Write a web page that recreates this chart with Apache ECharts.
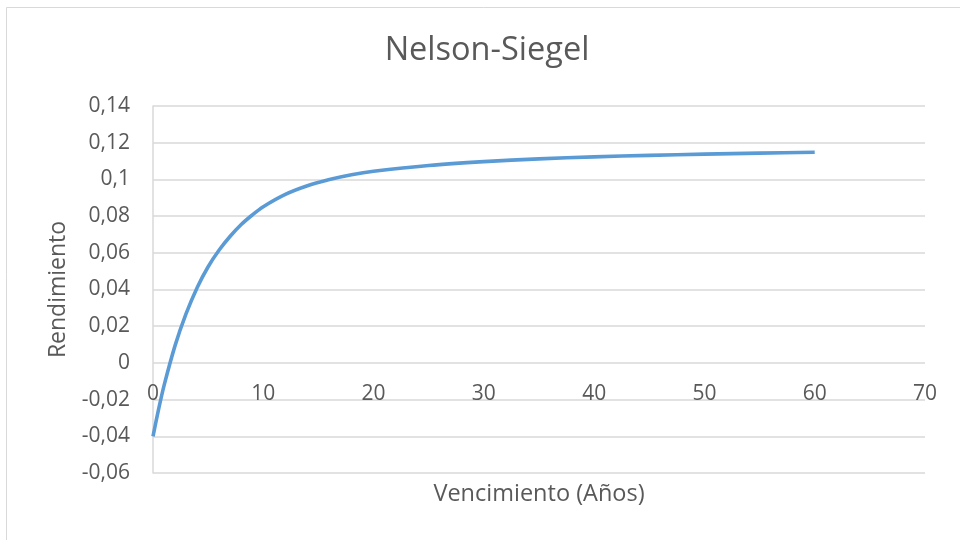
<!DOCTYPE html>
<html>
<head>
<meta charset="utf-8">
<script src="https://cdn.jsdelivr.net/npm/echarts@6/dist/echarts.min.js"></script>
<style>html,body{margin:0;padding:0;background:#fff}#c{width:960px;height:540px}</style>
</head>
<body>
<div id="c"></div>
<script>
const titleText = 'Nelson-Siegel';
const xName = 'Vencimiento (Años)';
const yName = 'Rendimiento';
const maturities = [0, 0.5, 1, 2, 3, 4, 5, 6, 7, 8, 9, 10, 12, 14, 16, 18, 20, 25, 30, 35, 40, 45, 50, 55, 60];
const yields = [-0.040, -0.0255, -0.0124, 0.0094, 0.0268, 0.0410, 0.0524, 0.0615, 0.0690, 0.0754, 0.0806, 0.0851, 0.0918, 0.0965, 0.0999, 0.1025, 0.1044, 0.1076, 0.1097, 0.1112, 0.1123, 0.1131, 0.1138, 0.1143, 0.1148];
const xMin = 0, xMax = 70, xStep = 10;
const yMin = -0.06, yMax = 0.14, yStep = 0.02;

const FONT = 'Open Sans';
const TXT = '#595959';
const GRID = '#d9d9d9';
const fmt = v => String(+Number(v).toFixed(2)).replace('.', ',');

const chart = echarts.init(document.getElementById('c'), null, {renderer: 'canvas'});
chart.setOption({
  animation: false,
  backgroundColor: '#fff',
  textStyle: {fontFamily: FONT},
  title: {
    text: titleText, left: 482, top: 29, textAlign: 'center',
    textStyle: {fontFamily: FONT, fontSize: 32.5, fontWeight: 'normal', color: TXT}
  },
  graphic: [{
    type: 'rect', shape: {x: 6.5, y: 7.5, width: 1000, height: 600},
    style: {fill: 'none', stroke: GRID, lineWidth: 1}, silent: true, z: -1
  }],
  grid: {left: 153, right: 35, top: 106, bottom: 67, containLabel: false, outerBoundsMode: 'none'},
  xAxis: {
    type: 'value', min: xMin, max: xMax, interval: xStep,
    name: xName, nameLocation: 'middle', nameGap: 9,
    nameTextStyle: {fontFamily: FONT, fontSize: 23.5, color: TXT},
    axisLine: {show: false, onZero: false},
    axisTick: {show: false},
    axisLabel: {fontFamily: FONT, fontSize: 21, color: TXT, margin: -89, formatter: fmt},
    splitLine: {show: false}
  },
  yAxis: {
    type: 'value', min: yMin, max: yMax, interval: yStep,
    name: yName, nameLocation: 'middle', nameGap: 83, nameRotate: 90,
    nameTextStyle: {fontFamily: FONT, fontSize: 23, color: TXT},
    axisLine: {show: true, onZero: false, lineStyle: {color: GRID, width: 1.5}},
    axisTick: {show: false},
    axisLabel: {fontFamily: FONT, fontSize: 21, color: TXT, margin: 23, formatter: fmt},
    splitLine: {show: true, lineStyle: {color: GRID, width: 1.5}}
  },
  series: [{
    type: 'line',
    data: maturities.map((t, i) => [t, yields[i]]),
    smooth: 0.3,
    showSymbol: false,
    lineStyle: {color: '#5b9bd5', width: 3.6},
    itemStyle: {color: '#5b9bd5'}
  }]
});
</script>
</body>
</html>
